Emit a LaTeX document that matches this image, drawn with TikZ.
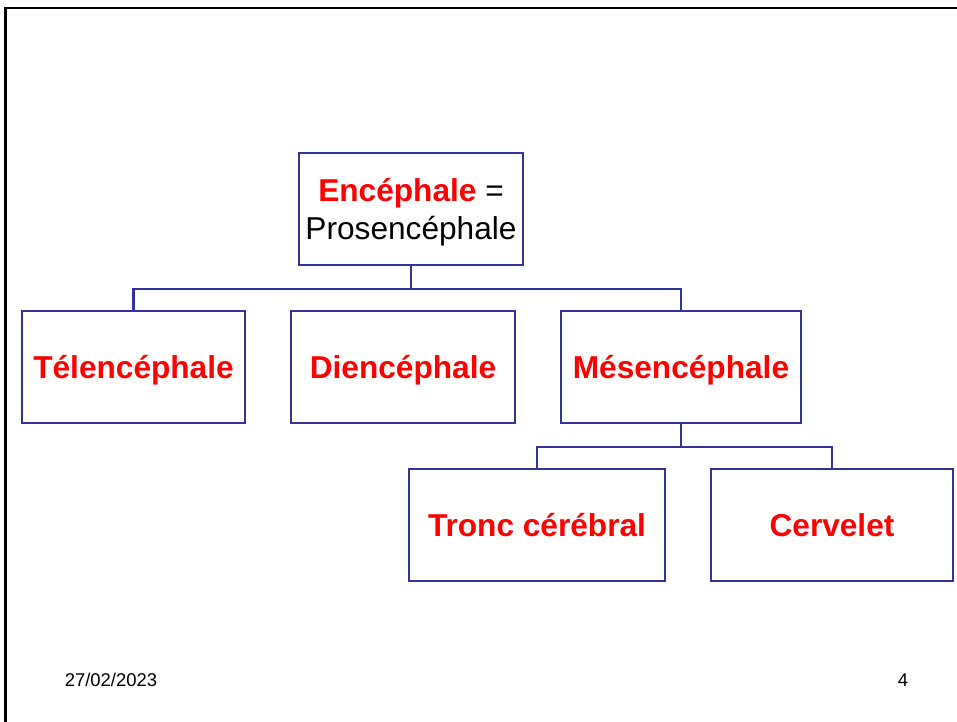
\documentclass[tikz,border=0pt]{standalone}
\usepackage{fontspec}
\setmainfont{Liberation Sans}
\definecolor{boxblue}{RGB}{51,51,153}
\definecolor{titlered}{RGB}{255,0,0}
\tikzset{
  partbox/.style={draw=boxblue, line width=1.3pt, fill=white, minimum height=22.4mm, inner sep=0pt,
    text depth=0pt, font=\fontsize{18}{21.5}\selectfont\bfseries, text=titlered, align=center},
  link/.style={draw=boxblue, line width=1.3pt},
  footer/.style={font=\fontsize{10.5}{12}\selectfont, text=black}
}
\begin{document}
\begin{tikzpicture}[x=0.2mm, y=-0.2mm]
            \useasboundingbox (0,0) rectangle (957,721);
            % slide frame
            \draw[line width=1.4pt, line cap=rect] (5.5,721) -- (5.5,8) -- (957,8);
            % root
            \node[partbox, minimum width=224*0.2mm] (enc) at (411,209)
              {Encéphale \textcolor{black}{\mdseries =}\\ \textcolor{black}{\mdseries Prosencéphale}};
            % first level
            \node[partbox, minimum width=223*0.2mm] (tel) at (133.5,367) {Télencéphale};
            \node[partbox, minimum width=224*0.2mm] (dien) at (403,367) {Diencéphale};
            \node[partbox, minimum width=240*0.2mm] (mes) at (681,367) {Mésencéphale};
            % second level
            \node[partbox, minimum width=256*0.2mm] (tronc) at (537,525) {Tronc cérébral};
            \node[partbox, minimum width=242*0.2mm] (cerv) at (832,525) {Cervelet};
            % connectors
            \draw[link] (enc.south) -- ++(0,23) coordinate (bus1);
            \draw[link] (tel.north) |- (bus1) -| (mes.north);
            \draw[link] (mes.south) -- ++(0,23) coordinate (bus2);
            \draw[link] (tronc.north) |- (bus2) -| (cerv.north);
            % footer
            \node[footer] (date) at (111,680) {27/02/2023};
            \node[footer] (page) at (903,680) {4};
        \end{tikzpicture}
\end{document}
